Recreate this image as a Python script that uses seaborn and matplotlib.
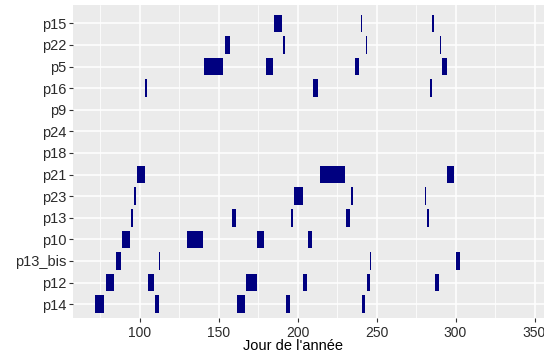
import matplotlib
matplotlib.use("Agg")
import matplotlib.pyplot as plt
import seaborn as sns

# sites, top to bottom
sites = ["p15", "p22", "p5", "p16", "p9", "p24", "p18", "p21", "p23",
         "p13", "p10", "p13_bis", "p12", "p14"]

# (debut, fin) in day of year for each site
p15 = [(185, 190), (240.1, 240.7), (285.2, 286.2)]
p22 = [(154, 157.5), (191.1, 191.9), (243.2, 243.8), (290.1, 290.9)]
p5 = [(140.5, 153), (180, 184.2), (236.5, 239), (291.2, 294.6)]
p16 = [(103.6, 104.6), (210, 213.2), (284.1, 284.9)]
p9 = []
p24 = []
p18 = []
p21 = [(98.7, 103.5), (214, 230.3), (294.9, 299.2)]
p23 = [(96.8, 98), (198, 203.4), (233.8, 235.4), (280.4, 281.3)]
p13 = [(94.8, 95.9), (158.4, 161.1), (196, 196.9), (230.7, 233), (282, 283)]
p10 = [(88.7, 94), (130, 140), (174.6, 179), (206.8, 209.2)]
p13_bis = [(84.9, 88.3), (112.5, 113.1), (245.9, 246.5), (300.3, 302.6)]
p12 = [(78.6, 84), (105.6, 108.9), (167.7, 174.1), (203.7, 206),
       (243.8, 245.8), (287, 289.3)]
p14 = [(71.6, 77.7), (109.8, 112.1), (161.5, 167), (193, 195.4), (240.8, 242.6)]

periods = {"p15": p15, "p22": p22, "p5": p5, "p16": p16, "p9": p9, "p24": p24,
           "p18": p18, "p21": p21, "p23": p23, "p13": p13, "p10": p10,
           "p13_bis": p13_bis, "p12": p12, "p14": p14}

sns.set_theme(style="darkgrid", rc={
    "axes.facecolor": "#EBEBEB",
    "grid.color": "white",
    "axes.edgecolor": "#EBEBEB",
})
plt.rcParams["font.family"] = ["Liberation Sans", "DejaVu Sans"]

fig = plt.figure(figsize=(5.44, 3.56), dpi=100)
ax = fig.add_axes([73 / 544, 38 / 356, 1 - 73 / 544, 313 / 356])

for i, s in enumerate(sites):
    for debut, fin in periods[s]:
        ax.barh(i, fin - debut, left=debut, height=0.82, color="navy",
                linewidth=0)

ax.set_xlim(57.9, 356)
ax.set_ylim(13.64, -0.85)
ax.set_yticks(range(len(sites)))
ax.set_yticklabels(sites)
ax.set_xticks([100, 150, 200, 250, 300, 350])
ax.set_xticks([75, 125, 175, 225, 275, 325], minor=True)
ax.grid(True, which="major", color="white", linewidth=1.1)
ax.grid(True, which="minor", axis="x", color="white", linewidth=0.55)
ax.set_axisbelow(True)
for sp in ax.spines.values():
    sp.set_visible(False)

ax.tick_params(axis="both", which="major", length=3, width=0.8,
               color="#333333", labelcolor="#2b2b2b",
               bottom=True, left=True)
ax.tick_params(axis="y", which="major", labelsize=10.5, pad=1.5)
ax.tick_params(axis="x", which="major", labelsize=10, pad=3)
ax.tick_params(axis="both", which="minor", length=0)
ax.set_xlabel("Jour de l'année", fontsize=10.5, color="black")
ax.xaxis.label.set_va("center")
ax.xaxis.set_label_coords((293 - 73) / (544 - 73), -28.5 / 313)
ax.set_ylabel("")

fig.savefig("out.png", dpi=100)
